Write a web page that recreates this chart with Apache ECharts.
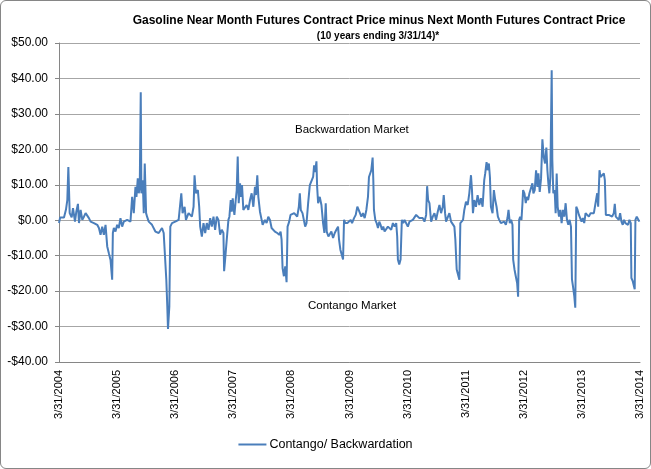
<!DOCTYPE html>
<html>
<head>
<meta charset="utf-8">
<script src="https://cdn.jsdelivr.net/npm/echarts@6/dist/echarts.min.js"></script>
<style>
  html, body { margin: 0; padding: 0; background: #fff; }
  #chart { width: 651px; height: 469px; box-sizing: border-box; border: 1px solid #868686; border-radius: 6px; }
</style>
</head>
<body>
<div id="chart"></div>
<script>
// time = years after 3/31/2004, value = near month minus next month ($/contract)
var part1 = [[0.00,-0.8],[0.02,0.8],[0.05,1.0],[0.086,0.8],[0.12,3.0],[0.143,5.7],[0.161,15.0],[0.184,2.0],[0.218,0.8],[0.241,3.4],[0.275,-0.4],[0.298,2.4],[0.326,4.6],[0.344,-0.8],[0.372,2.9],[0.401,0.1],[0.429,1.0],[0.458,2.0],[0.487,1.5],[0.515,0.6],[0.544,-0.4],[0.601,-0.8],[0.658,-1.3],[0.687,-2.2],[0.715,-4.1],[0.744,-1.8],[0.772,-4.1],[0.801,-1.3],[0.830,-7.4],[0.858,-9.3],[0.887,-11.2],[0.915,-16.8],[0.927,-3.6],[0.944,-2.2],[0.972,-3.2],[1.001,-1.3],[1.029,-2.2],[1.058,0.6],[1.087,-1.8],[1.115,-0.4],[1.144,-0.8],[1.173,0.1],[1.230,-0.4],[1.259,6.6],[1.287,2.0],[1.316,9.4],[1.333,6.6],[1.356,11.8],[1.373,7.6],[1.390,9.4],[1.407,36.1],[1.418,7.6],[1.441,11.3],[1.459,2.0],[1.476,16.0],[1.499,2.0],[1.516,1.0],[1.544,-0.4],[1.601,-1.3],[1.659,-3.2],[1.716,-3.6],[1.773,-2.2],[1.802,-3.6],[1.830,-4.1],[1.847,-16.8],[1.864,-24.3],[1.876,-30.7],[1.899,-24.3],[1.916,-1.8],[1.945,-0.8],[2.001,-0.4],[2.059,0.1],[2.105,7.6],[2.127,2.0],[2.162,3.8],[2.185,0.1],[2.230,2.0],[2.287,1.0],[2.316,3.8],[2.333,12.7],[2.356,7.6],[2.390,8.5],[2.413,3.8]];
var part2 = [[2.430,-1.8],[2.459,-4.6],[2.487,-0.8],[2.516,-3.6],[2.544,-0.8],[2.573,-2.7],[2.602,0.6],[2.630,-1.8],[2.659,1.0],[2.687,-2.7],[2.716,1.0],[2.744,0.1],[2.773,-4.1],[2.802,-2.7],[2.830,-3.6],[2.842,-14.4],[2.859,-11.1],[2.887,-5.5],[2.916,0.1],[2.933,1.0],[2.956,5.7],[2.973,2.4],[2.990,6.2],[3.002,3.8],[3.019,1.5],[3.042,5.7],[3.059,8.5],[3.076,18.0],[3.093,4.8],[3.116,10.4],[3.133,6.6],[3.150,9.9],[3.173,2.9],[3.202,2.4],[3.230,4.3],[3.259,2.9],[3.288,5.7],[3.316,7.6],[3.345,3.8],[3.373,9.4],[3.391,7.1],[3.413,12.7],[3.431,6.6],[3.459,2.4],[3.488,0.1],[3.505,-1.3],[3.545,0.1],[3.573,-0.8],[3.602,1.0],[3.631,0.1],[3.659,-2.2],[3.688,-2.7],[3.716,-3.2],[3.756,-3.6],[3.791,-4.1],[3.814,-3.2],[3.831,-5.5],[3.848,-13.5],[3.871,-15.8],[3.894,-13.0],[3.917,-17.5],[3.934,-1.8],[3.962,-0.4],[3.985,1.5],[4.019,1.0],[4.048,2.0],[4.077,2.4],[4.100,1.0],[4.128,3.8],[4.145,7.6],[4.162,2.9],[4.191,2.0],[4.214,0.1],[4.237,-1.8],[4.260,-0.8],[4.288,4.8],[4.317,9.9],[4.345,9.4],[4.374,12.2],[4.391,15.5],[4.408,13.6],[4.431,16.6],[4.443,9.4],[4.460,4.8],[4.488,6.6],[4.517,4.3],[4.545,-0.8],[4.568,-3.6],[4.591,4.8],[4.608,-3.2],[4.637,-4.6],[4.660,-4.1],[4.688,-3.2],[4.717,-5.0],[4.746,-3.6],[4.774,-2.7],[4.803,-1.8],[4.820,-5.5],[4.843,-8.3],[4.866,-8.8],[4.889,-11.1],[4.906,0.1]];
var part3 = [[4.929,-0.8],[4.964,-0.8],[4.987,-1.3],[5.021,0.1],[5.044,-0.8],[5.078,0.6],[5.107,1.5],[5.135,3.8],[5.158,2.9],[5.187,3.4],[5.204,1.0],[5.232,2.0],[5.261,0.6],[5.290,2.9],[5.318,6.6],[5.335,12.2],[5.353,12.7],[5.375,14.1],[5.398,17.7],[5.410,11.3],[5.421,2.9],[5.444,0.1],[5.467,-0.8],[5.490,-2.2],[5.513,-0.4],[5.535,-1.3],[5.558,-2.7],[5.581,-1.8],[5.604,-3.2],[5.633,-2.7],[5.661,-1.8],[5.690,-1.3],[5.718,-2.7],[5.747,-0.8],[5.776,-1.8],[5.804,-0.8],[5.821,-4.6],[5.833,-11.1],[5.856,-12.5],[5.879,-11.1],[5.901,0.1],[5.924,-0.8],[5.947,0.1],[5.976,-0.4],[6.004,-1.8],[6.033,-0.4],[6.061,-0.8],[6.090,0.1],[6.119,0.6],[6.147,1.5],[6.176,1.0],[6.204,0.6],[6.233,1.0],[6.262,0.6],[6.290,-0.4],[6.319,1.5],[6.336,9.6],[6.353,5.7],[6.376,4.8],[6.405,-0.4],[6.433,1.0],[6.462,2.0],[6.490,0.1],[6.519,2.4],[6.548,4.3],[6.576,2.0],[6.605,3.8],[6.622,7.1],[6.645,2.0],[6.662,-0.4],[6.690,0.1],[6.719,2.0],[6.748,-0.4],[6.776,-0.8],[6.805,-1.8],[6.822,-5.5],[6.845,-13.9],[6.868,-14.4],[6.891,-16.8],[6.908,-0.8],[6.931,-0.4],[6.954,0.1],[6.976,2.9],[7.005,5.2],[7.034,4.3],[7.062,7.6],[7.091,12.7],[7.108,8.5],[7.125,2.0],[7.148,5.7],[7.176,3.8],[7.205,7.1],[7.234,4.3],[7.262,6.2],[7.291,3.8],[7.319,11.3],[7.336,13.2],[7.359,16.4],[7.377,14.1],[7.399,16.0],[7.417,12.2]];
var part4 = [[7.434,3.8],[7.462,2.0],[7.485,8.5],[7.508,5.7],[7.531,3.8],[7.554,1.0],[7.577,0.1],[7.605,-0.8],[7.634,-1.3],[7.662,-0.4],[7.691,-1.3],[7.719,0.6],[7.737,2.9],[7.759,-0.8],[7.782,0.1],[7.805,-1.3],[7.817,-11.1],[7.840,-13.9],[7.862,-15.8],[7.885,-17.7],[7.902,-21.6],[7.920,0.1],[7.937,1.0],[7.960,0.1],[7.977,4.8],[7.988,8.5],[8.011,7.6],[8.034,4.8],[8.051,6.6],[8.074,5.7],[8.097,7.6],[8.120,7.1],[8.148,10.4],[8.165,7.6],[8.188,8.5],[8.211,14.1],[8.234,9.4],[8.251,13.2],[8.274,8.0],[8.297,11.8],[8.320,22.8],[8.343,17.9],[8.366,16.0],[8.388,20.5],[8.406,14.1],[8.423,10.4],[8.440,7.6],[8.457,12.2],[8.480,42.3],[8.491,16.9],[8.508,7.6],[8.531,8.5],[8.548,2.0],[8.566,13.2],[8.583,3.8],[8.606,1.0],[8.629,2.9],[8.651,-0.8],[8.674,2.9],[8.697,1.0],[8.720,4.8],[8.743,0.1],[8.766,-1.3],[8.789,0.1],[8.812,-1.8],[8.829,-16.7],[8.846,-18.6],[8.869,-21.4],[8.886,-24.7],[8.903,3.8],[8.926,2.9],[8.949,1.5],[8.972,1.0],[8.994,-0.4],[9.017,0.6],[9.040,-0.8],[9.063,2.0],[9.092,1.5],[9.120,1.0],[9.149,2.0],[9.177,1.5],[9.206,2.0],[9.235,2.4],[9.263,7.6],[9.280,3.8],[9.303,14.1],[9.320,12.2],[9.349,12.7],[9.378,13.2],[9.395,11.3],[9.412,1.5],[9.435,1.0],[9.463,1.5],[9.492,1.5],[9.520,1.0],[9.549,2.0],[9.566,4.6],[9.583,1.0],[9.606,1.5],[9.635,0.1],[9.658,2.0],[9.681,-0.4],[9.703,-1.3],[9.726,0.1],[9.749,-0.8],[9.772,-0.4],[9.795,-1.3],[9.818,0.1],[9.841,-0.8],[9.852,-16.3],[9.875,-17.2],[9.898,-16.7],[9.909,-19.5],[9.921,0.1],[9.944,1.0],[9.966,0.6],[9.989,-0.4]];

var startYear = 2004;
var tickYears = [0, 1, 2, 3, 4, 5, 6, 7, 8, 9, 10];
var yTicks = [-40, -30, -20, -10, 0, 10, 20, 30, 40, 50];

var font = "'Liberation Sans', Arial, sans-serif";
var chart = echarts.init(document.getElementById('chart'));

var option = {
  animation: false,
  title: [
    {
      text: 'Gasoline Near Month Futures Contract Price minus Next Month Futures Contract Price',
      left: 373, top: 9, textAlign: 'center',
      textStyle: { fontFamily: font, fontSize: 12, fontWeight: 'bold', color: '#000' }
    },
    {
      text: '(10 years ending 3/31/14)*',
      left: 372, top: 25, textAlign: 'center',
      textStyle: { fontFamily: font, fontSize: 10, fontWeight: 'bold', color: '#000' }
    }
  ],
  graphic: [
    { type: 'text', left: 294, top: 123, style: { text: 'Backwardation Market', fontFamily: font, fontSize: 11.5, fill: '#000' } },
    { type: 'text', left: 307, top: 299, style: { text: 'Contango Market', fontFamily: font, fontSize: 11.5, fill: '#000' } }
  ],
  legend: {
    bottom: 12, left: 'center',
    icon: 'rect', itemWidth: 28, itemHeight: 2, itemGap: 4,
    textStyle: { fontFamily: font, fontSize: 12.5, color: '#000', padding: [0, 0, 0, -2] },
    data: ['Contango/ Backwardation']
  },
  grid: { left: 58, right: 10, top: 42, bottom: 106 },
  xAxis: {
    type: 'value',
    min: tickYears[0], max: tickYears[tickYears.length - 1], interval: 1,
    axisLine: { onZero: false, lineStyle: { color: '#868686' } },
    axisTick: { show: false },
    splitLine: { show: false },
    axisLabel: {
      rotate: 90, margin: 8, color: '#000', fontFamily: font, fontSize: 11,
      formatter: function (v) { return '3/31/' + (startYear + v); }
    }
  },
  yAxis: {
    type: 'value',
    min: yTicks[0], max: yTicks[yTicks.length - 1], interval: 10,
    axisLine: { show: true, lineStyle: { color: '#868686' } },
    axisTick: { show: true, length: 4, lineStyle: { color: '#868686' } },
    splitLine: { lineStyle: { color: '#a6a6a6', width: 1 } },
    axisLabel: {
      color: '#000', fontFamily: font, fontSize: 12, margin: 11,
      formatter: function (v) { return (v < 0 ? '-$' : '$') + Math.abs(v).toFixed(2); }
    }
  },
  series: [{
    name: 'Contango/ Backwardation',
    type: 'line',
    symbol: 'none',
    data: part1.concat(part2, part3, part4),
    lineStyle: { color: '#4A7EBB', width: 2 },
    itemStyle: { color: '#4A7EBB' }
  }]
};
chart.setOption(option);
</script>
</body>
</html>
